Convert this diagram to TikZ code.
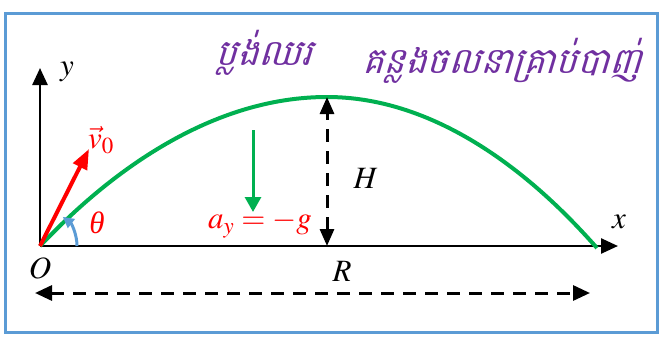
\documentclass[tikz,border=0pt]{standalone}
\usepackage{mathptmx}
\usepackage{fontspec}
\setmainfont{Liberation Serif}
\newfontfamily\khmerfont[Script=Khmer,FakeSlant=0.3]{Battambang}
\usetikzlibrary{arrows.meta,positioning}
\definecolor{pjblue}{RGB}{91,155,213}
\definecolor{pjgreen}{RGB}{0,176,80}
\definecolor{pjpurple}{RGB}{112,48,160}
\definecolor{pjred}{RGB}{255,0,0}

\begin{document}
\begin{tikzpicture}[x=1pt, y=-1pt, font=\fontsize{31}{33}\selectfont,
  bigtip/.style={-{Triangle[length=17pt,width=15pt]}},
  dimline/.style={line width=3pt, dash pattern=on 13pt off 9pt},
  khtext/.style={pjpurple, font=\khmerfont\fontsize{36}{38}\selectfont}]
\useasboundingbox (0,0) rectangle (661,338);
% frame
\draw[pjblue, line width=3pt] (5,13) rectangle (657,332);
% axes
\coordinate (O) at (40,246);
\coordinate (xend) at (618,246);
\coordinate (yend) at (40,68);
\draw[bigtip, line width=2.5pt] (O) -- (xend);
\draw[bigtip, line width=2.5pt] (O) -- (yend);
\node (ylab) at (67,72) {$y$};
\node (xlab) at (619,222) {$x$};
\node (olab) at (40,268) {$O$};
% trajectory
\coordinate (peak) at (327,97);
\coordinate (land) at (597,248);
\draw[pjgreen, line width=4pt] (O) parabola bend (peak) (land);
% launch velocity and angle
\coordinate (vtip) at (89,149);
\draw[pjred, line width=4pt, -{Triangle[length=20pt,width=15pt]}] (O) -- (vtip);
\node[pjred] (vlab) at (101,140) {$\vec{v}_0$};
\draw[pjblue, line width=3pt, -{Triangle[length=11pt,width=11pt]}] (77,246) arc[start angle=0, end angle=-52, radius=37];
\node[pjred] (thlab) at (97,223) {\textit{θ}};
% gravity
\coordinate (gtop) at (253,130);
\coordinate (gbot) at (253,212);
\draw[pjgreen, line width=3pt, -{Triangle[length=15pt,width=16pt]}] (gtop) -- (gbot);
\node[pjred] (glab) at (260,224) {$a_y = -g$};
% max height
\coordinate (hfoot) at (327,246);
\draw[dimline, {Triangle[length=17pt,width=14pt]}-{Triangle[length=17pt,width=14pt]}] (hfoot) -- (peak);
\node (hlab) at (366,178) {$H$};
% range
\coordinate (rleft) at (35,293);
\coordinate (rright) at (590,293);
\draw[dimline, {Triangle[length=17pt,width=15pt]}-{Triangle[length=17pt,width=15pt]}] (rleft) -- (rright);
\node (rlab) at (342,271) {$R$};
% titles
\node[khtext] (plane) at (264,53) {ប្លង់ឈរ};
\node[khtext] (path) at (502,61) {គន្លងចលនាគ្រាប់បាញ់};
\end{tikzpicture}
\end{document}
